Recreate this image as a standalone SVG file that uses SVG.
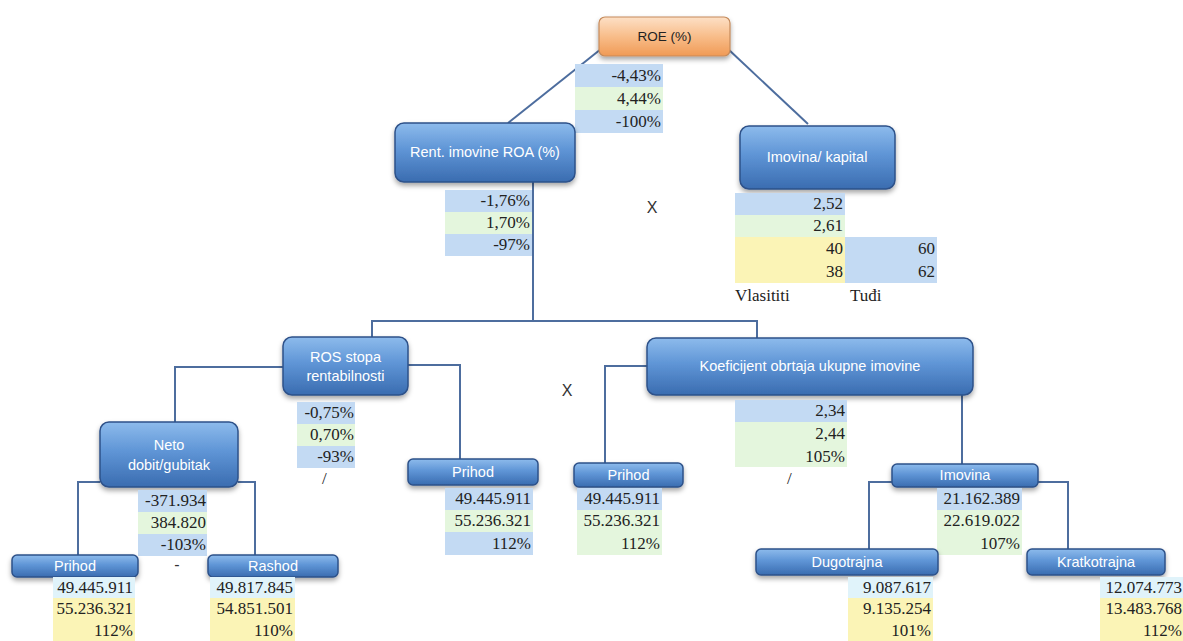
<svg xmlns="http://www.w3.org/2000/svg" width="1183" height="641" viewBox="0 0 1183 641">
<defs>
<linearGradient id="gBlue" x1="0" y1="0" x2="0" y2="1">
<stop offset="0" stop-color="#8dbbec"/>
<stop offset="0.45" stop-color="#5f95d6"/>
<stop offset="1" stop-color="#3a6cb0"/>
</linearGradient>
<linearGradient id="gOrange" x1="0" y1="0" x2="0" y2="1">
<stop offset="0" stop-color="#fde0c6"/>
<stop offset="0.5" stop-color="#f8bd8a"/>
<stop offset="1" stop-color="#f09a55"/>
</linearGradient>
<filter id="sh" x="-10%" y="-20%" width="120%" height="160%">
<feDropShadow dx="0" dy="3" stdDeviation="2.5" flood-color="#000" flood-opacity="0.35"/>
</filter>
<style>
.box{fill:url(#gBlue);stroke:#2d5189;stroke-width:1.5;filter:url(#sh)}
.roe{fill:url(#gOrange);stroke:#c58a5a;stroke-width:1.2;filter:url(#sh)}
.bt{font-family:"Liberation Sans",Arial,sans-serif;font-size:14.5px;fill:#ffffff;text-anchor:middle}
.bt2{font-family:"Liberation Sans",Arial,sans-serif;font-size:13.5px;fill:#222;text-anchor:middle}
.n{font-family:"Liberation Serif","Times New Roman",serif;font-size:17px;fill:#222;text-anchor:end}
.l{font-family:"Liberation Serif","Times New Roman",serif;font-size:17px;fill:#222}
.op{font-family:"Liberation Sans",Arial,sans-serif;font-size:16px;fill:#333;text-anchor:middle}
.cb{fill:#c3daf3}
.cg{fill:#e4f6dd}
.cy{fill:#fbf4b6}
.cc{fill:#e0f3fa}
.con{fill:none;stroke:#4d6d9e;stroke-width:2}
</style>
</defs>
<rect width="1183" height="641" fill="#ffffff"/>

<g id="connectors">
<line class="con" x1="601" y1="49" x2="508" y2="123"/>
<line class="con" x1="728" y1="49" x2="808" y2="124"/>
<polyline class="con" points="533,182 533,321"/>
<polyline class="con" points="372,337 372,321 757,321 757,338"/>
<polyline class="con" points="283,367 175,367 175,422"/>
<polyline class="con" points="408,365 460,365 460,459"/>
<polyline class="con" points="100,482 78,482 78,555"/>
<polyline class="con" points="238,482 255,482 255,555"/>
<polyline class="con" points="647,366 605,366 605,463"/>
<polyline class="con" points="962,395 962,464"/>
<polyline class="con" points="892,482 869,482 869,549"/>
<polyline class="con" points="1038,482 1068,482 1068,549"/>
</g>

<g id="roe">
<rect class="roe" x="599" y="17" width="131" height="39" rx="6"/>
<text class="bt2" x="664.5" y="41">ROE (%)</text>
<rect class="cb" x="575" y="64" width="88" height="23"/>
<rect class="cg" x="575" y="87" width="88" height="23"/>
<rect class="cb" x="575" y="110" width="88" height="23"/>
<text class="n" x="661" y="81">-4,43%</text>
<text class="n" x="661" y="104">4,44%</text>
<text class="n" x="661" y="127">-100%</text>
</g>

<g id="roa">
<rect class="box" x="395" y="123" width="180" height="59" rx="9"/>
<text class="bt" x="485" y="157">Rent. imovine ROA (%)</text>
<rect class="cb" x="445" y="190" width="87" height="22"/>
<rect class="cg" x="445" y="212" width="87" height="22"/>
<rect class="cb" x="445" y="234" width="87" height="22"/>
<text class="n" x="530" y="206">-1,76%</text>
<text class="n" x="530" y="228">1,70%</text>
<text class="n" x="530" y="250">-97%</text>
</g>

<text class="op" x="652" y="213">X</text>

<g id="imovina-kapital">
<rect class="box" x="740" y="126" width="155" height="63" rx="9"/>
<text class="bt" x="817" y="162">Imovina/ kapital</text>
<rect class="cb" x="735" y="193" width="110" height="22"/>
<rect class="cg" x="735" y="215" width="110" height="22"/>
<rect class="cy" x="735" y="237" width="110" height="46"/>
<rect class="cb" x="845" y="237" width="92" height="46"/>
<text class="n" x="843" y="209">2,52</text>
<text class="n" x="843" y="231">2,61</text>
<text class="n" x="843" y="254">40</text>
<text class="n" x="843" y="277">38</text>
<text class="n" x="935" y="254">60</text>
<text class="n" x="935" y="277">62</text>
<text class="l" x="735" y="301">Vlasititi</text>
<text class="l" x="850" y="301">Tuđi</text>
</g>

<g id="ros">
<rect class="box" x="283" y="337" width="125" height="58" rx="9"/>
<text class="bt" x="345.5" y="362">ROS stopa</text>
<text class="bt" x="345.5" y="381">rentabilnosti</text>
<rect class="cb" x="297" y="402" width="58" height="22"/>
<rect class="cg" x="297" y="424" width="58" height="22"/>
<rect class="cb" x="297" y="446" width="58" height="22"/>
<text class="n" x="354" y="418">-0,75%</text>
<text class="n" x="354" y="440">0,70%</text>
<text class="n" x="354" y="462">-93%</text>
<text class="l" x="322" y="484">/</text>
</g>

<text class="op" x="567" y="396">X</text>

<g id="koeficijent">
<rect class="box" x="647" y="338" width="326" height="57" rx="9"/>
<text class="bt" x="810" y="371">Koeficijent obrtaja ukupne imovine</text>
<rect class="cb" x="735" y="400" width="112" height="22"/>
<rect class="cg" x="735" y="422" width="112" height="45"/>
<text class="n" x="845" y="416">2,34</text>
<text class="n" x="845" y="439">2,44</text>
<text class="n" x="845" y="462">105%</text>
<text class="l" x="787" y="484">/</text>
</g>

<g id="neto">
<rect class="box" x="100" y="422" width="138" height="65" rx="9"/>
<text class="bt" x="169" y="450">Neto</text>
<text class="bt" x="169" y="470">dobit/gubitak</text>
<rect class="cb" x="138" y="490" width="69" height="22"/>
<rect class="cg" x="138" y="512" width="69" height="22"/>
<rect class="cb" x="138" y="534" width="69" height="22"/>
<text class="n" x="206" y="506">-371.934</text>
<text class="n" x="206" y="528">384.820</text>
<text class="n" x="206" y="550">-103%</text>
</g>

<g id="prihod-mid">
<rect class="box" x="408" y="459" width="130" height="26" rx="5"/>
<text class="bt" x="473" y="477">Prihod</text>
<rect class="cb" x="445" y="488" width="88" height="22"/>
<rect class="cg" x="445" y="510" width="88" height="22"/>
<rect class="cb" x="445" y="532" width="88" height="23"/>
<text class="n" x="531" y="504">49.445.911</text>
<text class="n" x="531" y="526">55.236.321</text>
<text class="n" x="531" y="549">112%</text>
</g>

<g id="prihod-right">
<rect class="box" x="574" y="463" width="109" height="24" rx="5"/>
<text class="bt" x="628.5" y="480">Prihod</text>
<rect class="cb" x="577" y="488" width="85" height="22"/>
<rect class="cg" x="577" y="510" width="85" height="45"/>
<text class="n" x="660" y="504">49.445.911</text>
<text class="n" x="660" y="526">55.236.321</text>
<text class="n" x="660" y="549">112%</text>
</g>

<g id="imovina">
<rect class="box" x="892" y="464" width="146" height="23" rx="5"/>
<text class="bt" x="965" y="480">Imovina</text>
<rect class="cb" x="937" y="488" width="85" height="22"/>
<rect class="cg" x="937" y="510" width="85" height="45"/>
<text class="n" x="1020" y="504">21.162.389</text>
<text class="n" x="1020" y="526">22.619.022</text>
<text class="n" x="1020" y="549">107%</text>
</g>

<g id="prihod-left">
<rect class="box" x="12" y="555" width="126" height="22" rx="5"/>
<text class="bt" x="75" y="571">Prihod</text>
<rect class="cc" x="53" y="577" width="82" height="21"/>
<rect class="cy" x="53" y="598" width="82" height="43"/>
<text class="n" x="133" y="593">49.445.911</text>
<text class="n" x="133" y="614">55.236.321</text>
<text class="n" x="133" y="636">112%</text>
</g>

<text class="op" x="177" y="570">-</text>

<g id="rashod">
<rect class="box" x="208" y="555" width="130" height="22" rx="5"/>
<text class="bt" x="273" y="571">Rashod</text>
<rect class="cc" x="210" y="577" width="85" height="21"/>
<rect class="cy" x="210" y="598" width="85" height="43"/>
<text class="n" x="293" y="593">49.817.845</text>
<text class="n" x="293" y="614">54.851.501</text>
<text class="n" x="293" y="636">110%</text>
</g>

<g id="dugotrajna">
<rect class="box" x="756" y="549" width="182" height="26" rx="5"/>
<text class="bt" x="847" y="567">Dugotrajna</text>
<rect class="cc" x="848" y="577" width="85" height="21"/>
<rect class="cy" x="848" y="598" width="85" height="43"/>
<text class="n" x="931" y="593">9.087.617</text>
<text class="n" x="931" y="614">9.135.254</text>
<text class="n" x="931" y="636">101%</text>
</g>

<g id="kratkotrajna">
<rect class="box" x="1027" y="549" width="138" height="26" rx="5"/>
<text class="bt" x="1096" y="567">Kratkotrajna</text>
<rect class="cc" x="1100" y="577" width="83" height="21"/>
<rect class="cy" x="1100" y="598" width="83" height="43"/>
<text class="n" x="1182" y="593">12.074.773</text>
<text class="n" x="1182" y="614">13.483.768</text>
<text class="n" x="1182" y="636">112%</text>
</g>
</svg>
